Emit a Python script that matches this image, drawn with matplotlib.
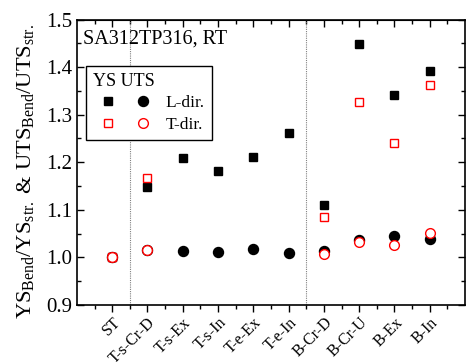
import numpy as np
import matplotlib
matplotlib.use("Agg")
import matplotlib.pyplot as plt
from matplotlib.lines import Line2D
from matplotlib.legend_handler import HandlerTuple
from matplotlib.ticker import MultipleLocator, FixedLocator

plt.rcParams['font.family'] = ['Liberation Serif', 'DejaVu Serif']
plt.rcParams['mathtext.fontset'] = 'custom'
plt.rcParams['mathtext.rm'] = 'Liberation Serif'
plt.rcParams['mathtext.it'] = 'Liberation Serif:italic'

categories = ["ST", "T-s-Cr-D", "T-s-Ex", "T-s-In", "T-e-Ex", "T-e-In",
              "B-Cr-D", "B-Cr-U", "B-Ex", "B-In"]
ys_L = [1.000, 1.149, 1.208, 1.182, 1.212, 1.261, 1.110, 1.449, 1.341, 1.392]
ys_T = [1.000, 1.166, np.nan, np.nan, np.nan, np.nan, 1.084, 1.327, 1.241, 1.362]
uts_L = [1.000, 1.015, 1.014, 1.011, 1.017, 1.009, 1.013, 1.037, 1.044, 1.038]
uts_T = [1.000, 1.016, np.nan, np.nan, np.nan, np.nan, 1.008, 1.032, 1.027, 1.051]
separators = [0.5, 5.5]

sq_L = dict(marker='s', color='black', ms=6.2, ls='none')
ci_L = dict(marker='o', color='black', ms=7.2, ls='none')
sq_T = dict(marker='s', mfc='white', mec='red', mew=1.0, ms=6.0, ls='none')
ci_T = dict(marker='o', mfc='white', mec='red', mew=1.0, ms=7.0, ls='none')

fig = plt.figure(figsize=(4.66, 3.62), dpi=100)
ax = fig.add_axes([0.165, 0.1575, 0.833, 0.7885])
x = np.arange(len(categories))

ax.plot(x, ys_L, zorder=3, **sq_L)
ax.plot(x, uts_L, zorder=3, **ci_L)
ax.plot(x, ys_T, zorder=4, **sq_T)
ax.plot(x, uts_T, zorder=4, **ci_T)

for s in separators:
    ax.axvline(s, color='gray', lw=0.8, ls=(0, (1, 1)), zorder=1)

ax.set_xlim(-1, 10)
ax.set_ylim(0.9, 1.5)
ax.set_xticks(x)
ax.set_xticklabels(categories, rotation=45, ha='right', rotation_mode='anchor', fontsize=11.5)
ax.xaxis.set_minor_locator(FixedLocator(np.arange(-0.5, 10, 1.0)))
ax.yaxis.set_major_locator(MultipleLocator(0.1))
ax.yaxis.set_minor_locator(MultipleLocator(0.05))
ax.yaxis.set_major_formatter(matplotlib.ticker.FormatStrFormatter('%.1f'))
ax.tick_params(axis='y', which='both', direction='in', right=True, labelsize=15)
ax.tick_params(axis='y', which='major', length=5, width=1.0)
ax.tick_params(axis='y', which='minor', length=3, width=1.0)
ax.tick_params(axis='x', which='major', direction='out', length=5, width=1.0, pad=2)
ax.tick_params(axis='x', which='minor', direction='out', length=3, width=1.0)
ax.tick_params(axis='x', which='both', top=False)
for sp in ax.spines.values():
    sp.set_linewidth(1.2)

# top ticks pointing inward
secx = ax.secondary_xaxis('top')
secx.set_xticks(x)
secx.set_xticklabels([])
secx.xaxis.set_minor_locator(FixedLocator(np.arange(-0.5, 10, 1.0)))
secx.tick_params(axis='x', which='both', direction='in')
secx.tick_params(axis='x', which='major', length=5, width=1.0)
secx.tick_params(axis='x', which='minor', length=3, width=1.0)

ax.set_ylabel(r'YS$_\mathrm{Bend}$/YS$_\mathrm{str.}$ & UTS$_\mathrm{Bend}$/UTS$_\mathrm{str.}$',
              fontsize=16.2)
ax.yaxis.set_label_coords(-0.105, 0.467)

ax.text(0.015, 0.965, 'SA312TP316, RT', transform=ax.transAxes, fontsize=14.5,
        ha='left', va='top')

hL = (Line2D([], [], **sq_L), Line2D([], [], **ci_L))
hT = (Line2D([], [], **sq_T), Line2D([], [], **ci_T))
leg = ax.legend([hL, hT], ['L-dir.', 'T-dir.'],
                handler_map={tuple: HandlerTuple(ndivide=None, pad=0.3)},
                title='YS UTS', loc='upper left', bbox_to_anchor=(0.023, 0.837),
                fontsize=12.5, title_fontsize=13, handlelength=3.75,
                handletextpad=0.45,
                frameon=True, fancybox=False, edgecolor='black', framealpha=1,
                alignment='left', borderpad=0.4, labelspacing=0.3,
                borderaxespad=0)
leg.get_frame().set_linewidth(1.0)

fig.savefig('out.png', dpi=100)
